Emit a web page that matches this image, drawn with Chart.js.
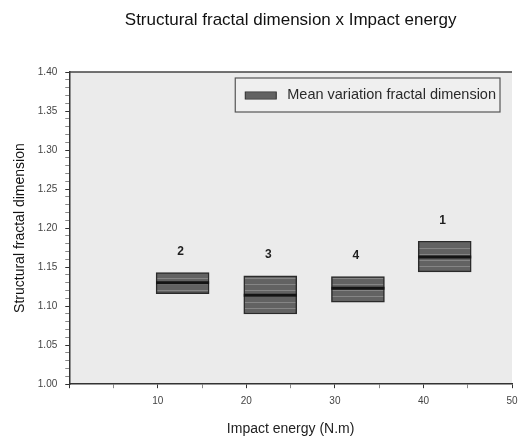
<!DOCTYPE html>
<html>
<head>
<meta charset="utf-8">
<script src="https://cdn.jsdelivr.net/npm/chart.js@4.4.1/dist/chart.umd.min.js"></script>
<style>
  html, body { margin: 0; padding: 0; background: #fff; }
</style>
</head>
<body>
<canvas id="fractalChart" width="527" height="438"></canvas>
<script>
// bar centres on the impact energy axis
const energy = [12.8, 22.7, 32.6, 42.4];
const groupLabels = ['2', '3', '4', '1'];
const lowValues = [1.116, 1.090, 1.105, 1.144];
const highValues = [1.143, 1.139, 1.138, 1.183];
const meanValues = [1.130, 1.114, 1.123, 1.163];
const xTickLabels = [10, 20, 30, 40, 50];
const yTickLabels = [1.00, 1.05, 1.10, 1.15, 1.20, 1.25, 1.30, 1.35, 1.40];

const FONT = '"Liberation Sans", Arial, Helvetica, sans-serif';

function stripePattern() {
   const c = document.createElement('canvas');
   c.width = 6; c.height = 6;
   const g = c.getContext('2d');
   g.fillStyle = '#626262';
   g.fillRect(0, 0, 6, 6);
   g.fillStyle = '#858585';
   g.fillRect(0, 2, 6, 1);
   return g.createPattern(c, 'repeat');
}
const boxFill = stripePattern();

const extras = {
   id: 'extras',
   beforeDraw(chart) {
      const { ctx, chartArea: a } = chart;
      ctx.save();
      ctx.fillStyle = '#ffffff';
      ctx.fillRect(0, 0, chart.width, chart.height);
      ctx.fillStyle = '#ebebeb';
      ctx.fillRect(a.left, a.top, a.right - a.left, a.bottom - a.top);
      ctx.restore();
   },
   afterDatasetsDraw(chart) {
      const { ctx, scales } = chart;
      const meta = chart.getDatasetMeta(0);
      ctx.save();
      meta.data.forEach((bar, i) => {
         const half = bar.width / 2;
         const ym = scales.y.getPixelForValue(meanValues[i]);
         ctx.strokeStyle = '#141414';
         ctx.lineWidth = 3;
         ctx.beginPath();
         ctx.moveTo(bar.x - half, ym);
         ctx.lineTo(bar.x + half, ym);
         ctx.stroke();
         ctx.fillStyle = '#1e1e1e';
         ctx.font = 'bold 12px ' + FONT;
         ctx.textAlign = 'center';
         ctx.textBaseline = 'middle';
         ctx.fillText(groupLabels[i], bar.x - 2, scales.y.getPixelForValue(highValues[i]) - 21);
      });
      ctx.restore();
   },
   afterDraw(chart) {
      const { ctx, chartArea: a } = chart;
      ctx.save();
      // top frame line
      ctx.strokeStyle = '#444';
      ctx.lineWidth = 1.5;
      ctx.beginPath();
      ctx.moveTo(a.left, a.top);
      ctx.lineTo(a.right, a.top);
      ctx.stroke();

      // legend box inside the plot, top right
      const label = chart.data.datasets[0].label;
      ctx.font = '14.5px ' + FONT;
      const tw = ctx.measureText(label).width;
      const right = a.right - 12;
      const top = a.top + 6;
      const h = 34;
      const left = right - (10 + 31 + 11 + tw + 4);
      ctx.fillStyle = '#efefef';
      ctx.fillRect(left, top, right - left, h);
      ctx.strokeStyle = '#555';
      ctx.lineWidth = 1.2;
      ctx.strokeRect(left, top, right - left, h);
      ctx.fillStyle = boxFill;
      ctx.fillRect(left + 10, top + 14, 31, 7);
      ctx.strokeStyle = '#2a2a2a';
      ctx.lineWidth = 1;
      ctx.strokeRect(left + 10, top + 14, 31, 7);
      ctx.fillStyle = '#2a2a2a';
      ctx.textAlign = 'left';
      ctx.textBaseline = 'middle';
      ctx.fillText(label, left + 52, top + h / 2);
      ctx.restore();
   }
};

new Chart(document.getElementById('fractalChart'), {
   type: 'bar',
   data: {
      datasets: [{
         label: 'Mean variation fractal dimension',
         data: energy.map((x, i) => ({ x: x, y: [lowValues[i], highValues[i]] })),
         backgroundColor: boxFill,
         borderColor: '#2a2a2a',
         borderWidth: 1.5,
         borderSkipped: false,
         barThickness: 53
      }]
   },
   plugins: [extras],
   options: {
      responsive: false,
      animation: false,
      layout: { padding: { left: 4, right: 15, top: 0, bottom: 0 } },
      plugins: {
         legend: { display: false },
         tooltip: { enabled: false },
         title: {
            display: true,
            text: 'Structural fractal dimension x Impact energy',
            fullSize: false,
            color: '#111',
            font: { family: FONT, size: 17, weight: 'normal' },
            padding: { top: 10, bottom: 41.6 }
         }
      },
      scales: {
         x: {
            type: 'linear',
            min: 0,
            max: 50,
            offset: false,
            ticks: {
               stepSize: 5,
               autoSkip: false,
               maxRotation: 0,
               padding: 7,
               color: '#444',
               font: { family: FONT, size: 10 },
               callback: v => xTickLabels.includes(v) ? String(v) : ''
            },
            grid: {
               offset: false,
               drawOnChartArea: false,
               tickLength: 4,
               tickColor: c => (c.tick && c.tick.value % 10 === 0) ? '#333' : '#888'
            },
            border: { display: true, color: '#333', width: 1.5 },
            title: {
               display: true,
               text: 'Impact energy (N.m)',
               color: '#222',
               font: { family: FONT, size: 14 },
               padding: { top: 7, bottom: 0 }
            }
         },
         y: {
            min: 1.0,
            max: 1.4,
            ticks: {
               stepSize: 0.01,
               autoSkip: false,
               padding: 8,
               color: '#444',
               font: { family: FONT, size: 10 },
               callback: v => {
                  const r = Math.round(v * 100) / 100;
                  return yTickLabels.some(t => Math.abs(t - r) < 1e-6) ? r.toFixed(2) : '';
               }
            },
            grid: {
               drawOnChartArea: false,
               tickLength: 4,
               tickColor: c => (c.tick && Math.round(c.tick.value * 100) % 5 === 0) ? '#333' : '#888'
            },
            border: { display: true, color: '#333', width: 1.5 },
            title: {
               display: true,
               text: 'Structural fractal dimension',
               color: '#111',
               font: { family: FONT, size: 14 },
               padding: { top: 8, bottom: 1 }
            }
         }
      }
   }
});
</script>
</body>
</html>
